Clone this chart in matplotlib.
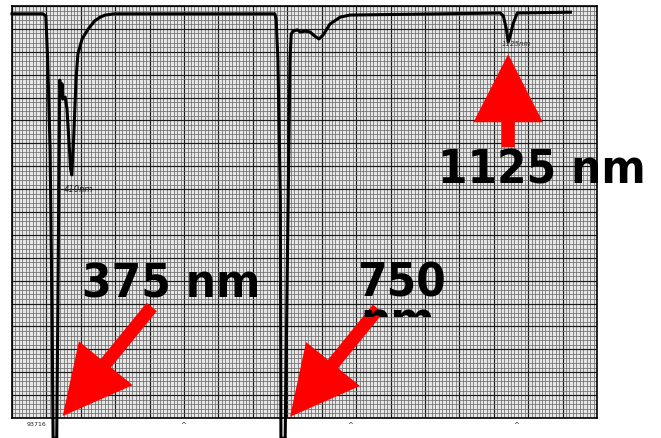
import numpy as np
import matplotlib
matplotlib.use("Agg")
import matplotlib.pyplot as plt
from matplotlib.transforms import Bbox

# Spectrum trace (wavelength nm, signal %)
wavelength = [304, 355, 360, 363, 367, 370, 372, 378, 380, 382, 383, 385, 387, 388,
              392, 395, 398, 401, 403, 406, 410, 413, 420, 430, 441, 450, 458, 474,
              739, 741, 744, 748, 749, 756, 761, 764, 766, 769, 776, 781, 789, 797,
              805, 812, 819, 830, 847, 863,
              1112, 1117, 1122, 1125, 1128, 1133, 1140, 1228]
signal = [98.1, 98.1, 97.6, 87.1, 65.3, 28.9, -4.9, -4.9, 28.9, 65.3, 82.0, 78.6, 81.1, 77.4,
          77.9, 75.0, 67.7, 60.4, 59.0, 67.7, 82.3, 88.3, 92.0, 94.4, 96.4, 97.3, 97.8, 98.1,
          98.1, 96.8, 87.1, 53.2, -4.9, -4.9, 53.2, 87.1, 93.2, 93.9, 94.2, 93.7, 93.9, 93.7,
          92.7, 92.0, 93.0, 95.6, 97.3, 97.8,
          98.3, 97.6, 94.4, 91.3, 92.5, 95.6, 98.3, 98.5]

peak_labels = ["375 nm", "750", "1125 nm"]
peak_positions = [375, 750, 1125]

W, H = 661, 439
fig = plt.figure(figsize=(W / 100, H / 100), dpi=100)
fig.patch.set_facecolor("white")

x0, x1 = 12, 597
y0, y1 = 7, 419
ax = fig.add_axes([x0 / W, 1 - y1 / H, (x1 - x0) / W, (y1 - y0) / H])
xmin, xmax = 304, 1272
ax.set_xlim(xmin, xmax)
ax.set_ylim(0, 100)
ax.set_facecolor("#e6e6e6")

# chart-paper grid
ax.set_xticks(np.linspace(xmin, xmax, 18))
ax.set_xticks(np.linspace(xmin, xmax, 171), minor=True)
ax.set_yticks(np.linspace(0, 100, 19))
ax.set_yticks(np.linspace(0, 100, 91), minor=True)
ax.grid(which="minor", color="#6e6e6e", linewidth=0.55)
ax.grid(which="major", color="#1a1a1a", linewidth=0.85)
ax.tick_params(which="both", length=0, labelbottom=False, labelleft=False)
for s in ax.spines.values():
    s.set_color("black")
    s.set_linewidth(1.2)
ax.set_axisbelow(True)

ax.plot(wavelength, signal, color="black", linewidth=2.2, clip_on=False, zorder=3,
        solid_joinstyle="round")

# handwritten notes
ax.text(390, 55, "410nm", fontsize=6, color="#222222", family="DejaVu Sans",
        style="italic")
ax.text(1115, 90.5, "1125nm", fontsize=5, color="#333333", family="DejaVu Sans",
        style="italic")
fig.text(27 / W, 1 - 426 / H, "93716", fontsize=4.5, color="#222222")
for px in (183, 350, 516):
    fig.text(px / W, 1 - 427 / H, "^", fontsize=5, ha="center", color="#222222")

# red arrows
astyle = "simple,head_length=0.98,head_width=1.0,tail_width=0.19"
arrows = [((388, 0.5), (89, 109)), ((764, 0.3), (88, 108)), ((1125, 88.3), (0, -93))]
for (xy, off) in arrows:
    ax.annotate("", xy=xy, xytext=off, textcoords="offset pixels",
                arrowprops=dict(arrowstyle=astyle, color="#ff0000", mutation_scale=50,
                                shrinkA=0, shrinkB=0, linewidth=0), zorder=5)

big = dict(fontsize=34, fontweight="bold", color="black", family="DejaVu Sans",
           fontstretch="condensed", zorder=6)
fig.text(82 / W, 1 - 298 / H, peak_labels[0], **big)
fig.text(357 / W, 1 - 297 / H, peak_labels[1], **big)
fig.text(438 / W, 1 - 183 / H, peak_labels[2], **big)
t = fig.text(360 / W, 1 - 335 / H, "nm", **big)
t.set_clip_box(Bbox.from_extents(0, H - 318, W, H))
t.set_clip_on(True)

fig.savefig("out.png", dpi=100, facecolor="white")
